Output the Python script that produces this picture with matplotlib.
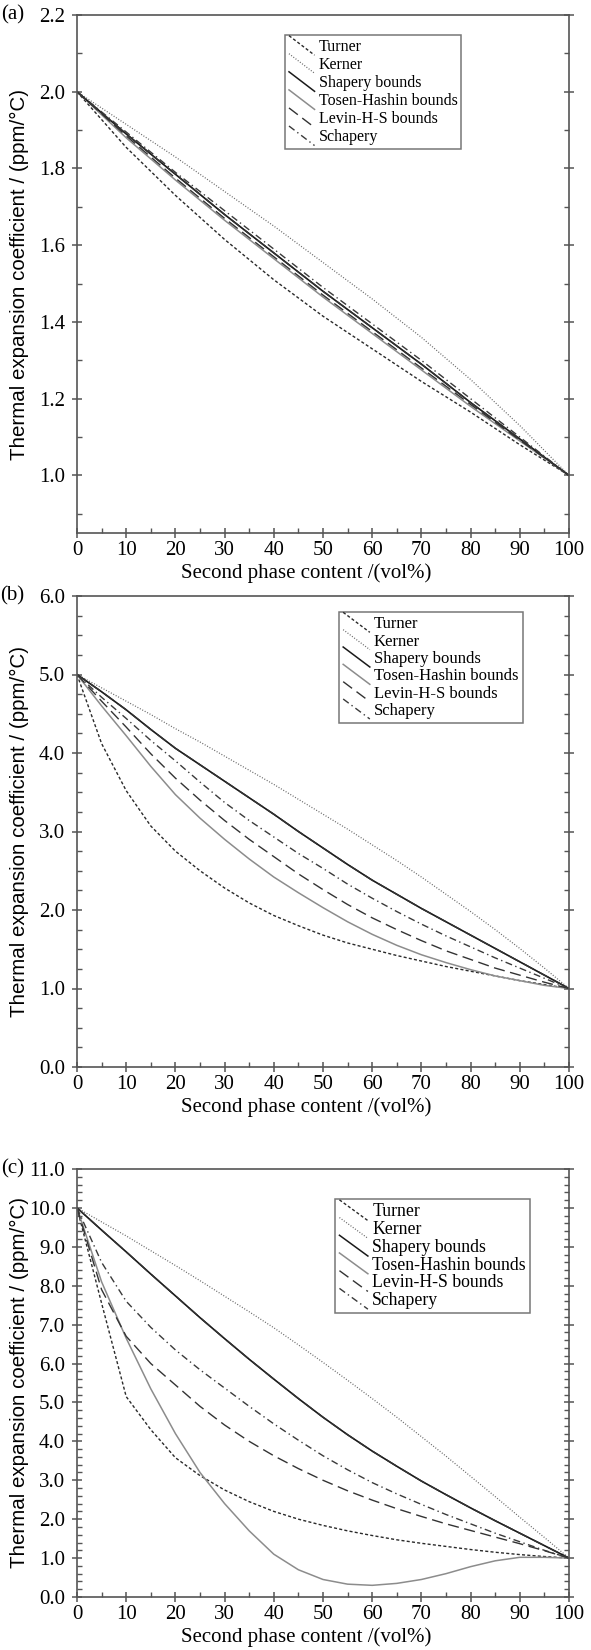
import matplotlib
matplotlib.use("Agg")
import matplotlib.pyplot as plt
from matplotlib.lines import Line2D
from matplotlib.legend_handler import HandlerLine2D
from matplotlib.ticker import MultipleLocator, FormatStrFormatter

# second phase content (vol%)
x10 = [0, 10, 20, 30, 40, 50, 60, 70, 80, 90, 100]
x5 = [0, 5, 10, 15, 20, 25, 30, 35, 40, 45, 50, 55, 60, 65, 70, 75, 80, 85, 90, 95, 100]

# panel (a), x10
a_turner = [2.0, 1.855, 1.73, 1.615, 1.51, 1.415, 1.33, 1.245, 1.165, 1.08, 1.0]
a_kerner = [2.0, 1.915, 1.83, 1.74, 1.65, 1.555, 1.46, 1.36, 1.25, 1.13, 1.0]
a_upper = [2.0, 1.89, 1.785, 1.68, 1.58, 1.48, 1.385, 1.29, 1.19, 1.095, 1.0]
a_th_lower = [2.0, 1.88, 1.77, 1.665, 1.565, 1.465, 1.37, 1.275, 1.18, 1.09, 1.0]
a_levin_lower = [2.0, 1.885, 1.775, 1.67, 1.57, 1.47, 1.375, 1.28, 1.185, 1.092, 1.0]
a_schapery = [2.0, 1.895, 1.79, 1.69, 1.59, 1.49, 1.395, 1.30, 1.20, 1.10, 1.0]

# panel (b), x5
b_turner = [5.0, 4.12, 3.52, 3.07, 2.75, 2.5, 2.28, 2.09, 1.93, 1.8, 1.68,
            1.58, 1.5, 1.42, 1.35, 1.28, 1.22, 1.16, 1.1, 1.05, 1.0]
b_kerner = [5.0, 4.83, 4.66, 4.49, 4.31, 4.14, 3.96, 3.78, 3.6, 3.41, 3.22,
            3.03, 2.83, 2.63, 2.42, 2.2, 1.98, 1.75, 1.51, 1.26, 1.0]
b_upper = [5.0, 4.78, 4.55, 4.3, 4.06, 3.85, 3.64, 3.43, 3.22, 3.0, 2.79,
           2.58, 2.38, 2.2, 2.02, 1.85, 1.68, 1.51, 1.34, 1.17, 1.0]
b_th_lower = [5.0, 4.6, 4.22, 3.83, 3.47, 3.17, 2.9, 2.65, 2.42, 2.22, 2.03,
              1.85, 1.69, 1.55, 1.43, 1.33, 1.24, 1.16, 1.1, 1.04, 1.0]
b_levin_lower = [5.0, 4.66, 4.33, 3.99, 3.68, 3.4, 3.14, 2.9, 2.68, 2.46, 2.26,
                 2.07, 1.9, 1.75, 1.61, 1.48, 1.37, 1.26, 1.17, 1.08, 1.0]
b_schapery = [5.0, 4.71, 4.44, 4.16, 3.9, 3.63, 3.37, 3.14, 2.93, 2.72, 2.53,
              2.33, 2.15, 1.98, 1.82, 1.67, 1.53, 1.39, 1.26, 1.13, 1.0]

# panel (c), x5
c_turner = [10.0, 7.55, 5.15, 4.3, 3.58, 3.12, 2.75, 2.45, 2.2, 2.0, 1.84,
            1.7, 1.58, 1.47, 1.38, 1.3, 1.22, 1.15, 1.09, 1.04, 1.0]
c_kerner = [10.0, 9.64, 9.28, 8.9, 8.52, 8.13, 7.73, 7.33, 6.92, 6.48, 6.03,
            5.57, 5.1, 4.62, 4.12, 3.62, 3.1, 2.58, 2.05, 1.53, 1.0]
c_upper = [10.0, 9.43, 8.87, 8.3, 7.74, 7.18, 6.64, 6.11, 5.6, 5.1, 4.62,
           4.17, 3.75, 3.36, 2.98, 2.63, 2.29, 1.96, 1.64, 1.32, 1.0]
c_th_lower = [10.0, 8.1, 6.65, 5.35, 4.2, 3.2, 2.4, 1.7, 1.1, 0.7, 0.45,
              0.33, 0.3, 0.35, 0.45, 0.6, 0.78, 0.93, 1.02, 1.02, 1.0]
c_levin_lower = [10.0, 7.9, 6.7, 6.0, 5.45, 4.9, 4.42, 4.0, 3.63, 3.3, 3.0,
                 2.73, 2.49, 2.27, 2.07, 1.88, 1.71, 1.54, 1.37, 1.19, 1.0]
c_schapery = [10.0, 8.6, 7.6, 6.93, 6.35, 5.84, 5.37, 4.9, 4.45, 4.03, 3.63,
              3.27, 2.94, 2.65, 2.38, 2.12, 1.88, 1.64, 1.42, 1.2, 1.0]

labels = ["Turner", "Kerner", "Shapery bounds", "Tosen-Hashin bounds",
          "Levin-H-S bounds", "Schapery"]

SERIF = "Liberation Serif"
W, H = 591, 1650

styles = {
    "turner": dict(color="#2a2a2a", lw=1.0, ls=(0, (2.2, 1.6))),
    "kerner": dict(color="#666666", lw=0.9, ls=(0, (0.8, 1.4))),
    "shapery": dict(color="#1a1a1a", lw=1.1, ls="-"),
    "th": dict(color="#8c8c8c", lw=1.1, ls="-"),
    "levin": dict(color="#333333", lw=1.0, ls=(0, (8, 4))),
    "schapery": dict(color="#3a3a3a", lw=1.0, ls=(0, (5, 2.5, 1, 2.5))),
}


class DiagonalHandler(HandlerLine2D):
    # Origin-style slanted legend sample
    def create_artists(self, legend, orig_handle, xdescent, ydescent,
                       width, height, fontsize, trans):
        line = Line2D([-xdescent, -xdescent + width],
                      [height - ydescent + 3, -ydescent - 3])
        self.update_prop(line, orig_handle, legend)
        line.set_transform(trans)
        return [line]


def draw_panel(fig, box, x, turner, kerner, upper, th_lower, levin_lower,
               schapery, ylim, ymajor, yminor, tag, legend_box, legend_size,
               legend_spacing):
    left, top, right, bottom = box
    ax = fig.add_axes([left / W, 1 - bottom / H, (right - left) / W, (bottom - top) / H])

    h1, = ax.plot(x, turner, **styles["turner"])
    h2, = ax.plot(x, kerner, **styles["kerner"])
    h4, = ax.plot(x, upper, **styles["th"])
    ax.plot(x, th_lower, **styles["th"])
    h3, = ax.plot(x, upper, **styles["shapery"])
    h5, = ax.plot(x, upper, **styles["levin"])
    ax.plot(x, levin_lower, **styles["levin"])
    h6, = ax.plot(x, schapery, **styles["schapery"])

    ax.set_xlim(0, 100)
    ax.set_ylim(*ylim)
    ax.xaxis.set_major_locator(MultipleLocator(10))
    ax.xaxis.set_minor_locator(MultipleLocator(5))
    ax.yaxis.set_major_locator(MultipleLocator(ymajor))
    ax.yaxis.set_minor_locator(MultipleLocator(yminor))
    ax.yaxis.set_major_formatter(FormatStrFormatter("%.1f"))

    for sp in ax.spines.values():
        sp.set_color("#555555")
        sp.set_linewidth(1.2)
    ax.tick_params(which="major", direction="inout", length=7, width=1.1,
                   color="#555555", right=True, top=False, labelsize=15)
    ax.tick_params(axis="x", which="major", pad=2)
    ax.tick_params(axis="y", which="major", pad=5)
    ax.tick_params(which="minor", direction="in", length=3.5, width=1.0,
                   color="#555555", right=True, top=False)
    for lab in ax.get_xticklabels() + ax.get_yticklabels():
        lab.set_fontfamily(SERIF)

    ax.set_xlabel("Second phase content /(vol%)", fontfamily=SERIF,
                  fontsize=15)
    ax.xaxis.set_label_coords(0.5 - 17 / (right - left), -30 / (bottom - top))
    ax.set_ylabel("Thermal expansion coefficient / (ppm/\u00b0C)",
                  fontfamily="Liberation Sans", fontsize=14.8)
    ax.yaxis.set_label_coords(-(left - 29) / (right - left), 0.5)

    ax.text(-(left - 24) / (right - left), 1.0, tag, transform=ax.transAxes,
            ha="right", va="center", fontsize=15, fontfamily=SERIF)

    lx, ly = legend_box
    leg = ax.legend([h1, h2, h3, h4, h5, h6], labels,
                    handler_map={Line2D: DiagonalHandler()},
                    loc="upper left",
                    bbox_to_anchor=(lx / W, 1 - ly / H),
                    bbox_transform=fig.transFigure,
                    prop={"family": SERIF, "size": legend_size},
                    frameon=True, fancybox=False, borderpad=0.25,
                    labelspacing=legend_spacing, handlelength=1.6,
                    handletextpad=0.25, borderaxespad=0)
    leg.get_frame().set_edgecolor("#555555")
    leg.get_frame().set_linewidth(1.1)
    return ax


fig = plt.figure(figsize=(W / 100, H / 100), dpi=100)

draw_panel(fig, (77, 15, 569, 533), x10, a_turner, a_kerner, a_upper,
           a_th_lower, a_levin_lower, a_schapery, (0.85, 2.2), 0.2, 0.1,
           "(a)", (285, 35), 11.5, 0.13)
draw_panel(fig, (77, 596, 569, 1067), x5, b_turner, b_kerner, b_upper,
           b_th_lower, b_levin_lower, b_schapery, (0.0, 6.0), 1.0, 0.25,
           "(b)", (339, 612), 12.0, 0.08)
draw_panel(fig, (77, 1169, 569, 1597), x5, c_turner, c_kerner, c_upper,
           c_th_lower, c_levin_lower, c_schapery, (0.0, 11.0), 1.0, 0.2,
           "(c)", (335, 1199), 12.8, 0.04)

fig.savefig("out.png", dpi=100)
